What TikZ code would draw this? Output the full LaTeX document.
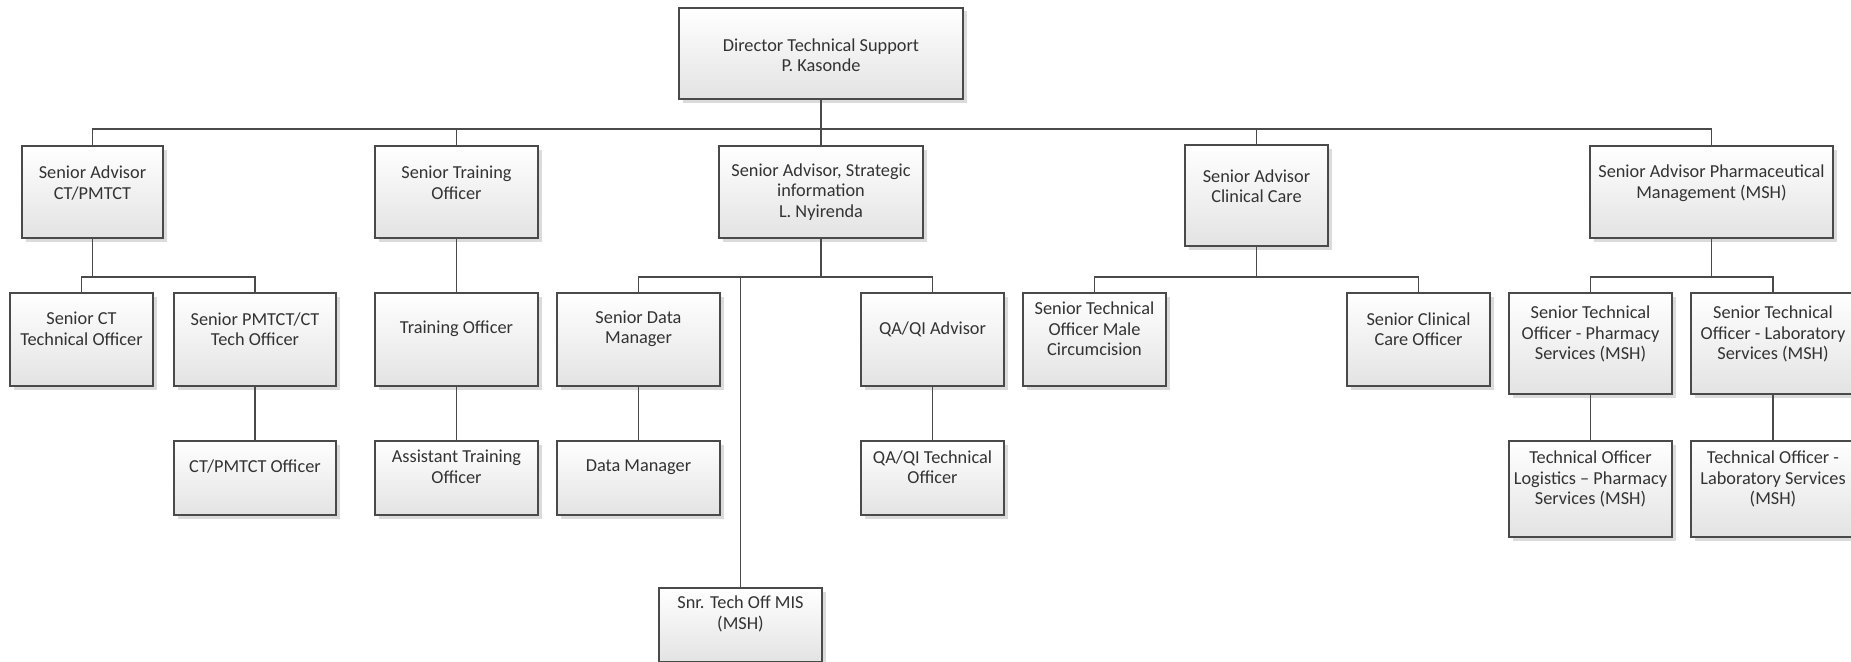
\documentclass[tikz,border=0pt]{standalone}
\usepackage{fontspec}
\setmainfont{Carlito}
\usetikzlibrary{shadows}

\definecolor{edge}{HTML}{4A4A4A}
\definecolor{ink}{HTML}{333333}

\tikzset{
  obox/.style={draw=edge, line width=1.6pt, inner sep=0pt,
    top color=white, bottom color=black!11,
    drop shadow={shadow xshift=3.5pt, shadow yshift=-3.5pt, fill=black!14, opacity=1}},
  otext/.style={text=ink, align=center, inner sep=0pt,
    font=\fontsize{18.3}{20.5}\selectfont},
  conn/.style={draw=edge, line width=1.5pt}
}

% #1 name, #2 left, #3 top, #4 right, #5 bottom, #6 text centre y, #7 text
\newcommand\orgbox[7]{%
  \node[obox, minimum width={#4-#2}, minimum height={#5-#3}] (#1) at ({(#2+#4)/2},{(#3+#5)/2}) {};
  \node[otext] (#1-t) at ({(#2+#4)/2},#6) {#7};
}

\begin{document}
\begin{tikzpicture}[x=1pt, y=-1pt]
\path[use as bounding box] (0,0) rectangle (1851,661);
\fill[white] (0,0) rectangle (1851,661);
\clip (0,0) rectangle (1851,661);

% top
\orgbox{dir}{679}{8}{963}{99}{55}{Director Technical Support\\P. Kasonde}

% senior advisors
\orgbox{sact}{22}{146}{163}{238}{183}{Senior Advisor\\CT/PMTCT}
\orgbox{sto}{375}{146}{538}{238}{183}{Senior Training\\Officer}
\orgbox{sasi}{719}{146}{923}{238}{192}{Senior Advisor, Strategic\\information\\L. Nyirenda}
\orgbox{sacc}{1185}{145}{1328}{246}{186}{Senior Advisor\\Clinical Care}
\orgbox{sapm}{1590}{146}{1833}{238}{183}{Senior Advisor Pharmaceutical\\Management (MSH)}

% second level
\orgbox{sctto}{10}{293}{153}{386}{329}{Senior CT\\Technical Officer}
\orgbox{spmtct}{174}{293}{336}{386}{329}{Senior PMTCT/CT\\Tech Officer}
\orgbox{to}{375}{293}{538}{386}{329}{Training Officer}
\orgbox{sdm}{557}{293}{720}{386}{329}{Senior Data\\Manager}
\orgbox{qaa}{861}{293}{1004}{386}{329}{QA/QI Advisor}
\orgbox{stomc}{1023}{293}{1166}{386}{329}{Senior Technical\\Officer Male\\Circumcision}
\orgbox{scco}{1347}{293}{1490}{386}{329}{Senior Clinical\\Care Officer}
\orgbox{stops}{1509}{293}{1672}{394}{334}{Senior Technical\\Officer - Pharmacy\\Services (MSH)}
\orgbox{stols}{1691}{293}{1855}{394}{334}{Senior Technical\\Officer - Laboratory\\Services (MSH)}

% third level
\orgbox{ctpo}{174}{441}{336}{515}{467}{CT/PMTCT Officer}
\orgbox{ato}{375}{441}{538}{515}{467}{Assistant Training\\Officer}
\orgbox{dm}{557}{441}{720}{515}{467}{Data Manager}
\orgbox{qato}{861}{441}{1004}{515}{467}{QA/QI Technical\\Officer}
\orgbox{tolps}{1509}{441}{1672}{537}{479}{Technical Officer\\Logistics – Pharmacy\\Services (MSH)}
\orgbox{tolab}{1691}{441}{1855}{537}{479}{Technical Officer -\\Laboratory Services\\(MSH)}

% fourth level
\orgbox{mis}{659}{588}{822}{662}{614}{Snr. Tech Off MIS\\(MSH)}

% bus points below each parent
\coordinate (dirbus)  at ([yshift=-29pt]dir.south);
\coordinate (sactbus) at ([yshift=-38pt]sact.south);
\coordinate (sasibus) at ([yshift=-38pt]sasi.south);
\coordinate (saccbus) at ([yshift=-30pt]sacc.south);
\coordinate (sapmbus) at ([yshift=-38pt]sapm.south);

% connectors
\foreach \c in {sact,sto,sasi,sacc,sapm}
  \draw[conn] (dir.south) -- (dirbus) -| (\c.north);
\foreach \c in {sctto,spmtct}
  \draw[conn] (sact.south) -- (sactbus) -| (\c.north);
\draw[conn] (spmtct.south) -- (ctpo.north);
\draw[conn] (sto.south) -- (to.north);
\draw[conn] (to.south) -- (ato.north);
\foreach \c in {sdm,qaa,mis}
  \draw[conn] (sasi.south) -- (sasibus) -| (\c.north);
\draw[conn] (sdm.south) -- (dm.north);
\draw[conn] (qaa.south) -- (qato.north);
\foreach \c in {stomc,scco}
  \draw[conn] (sacc.south) -- (saccbus) -| (\c.north);
\foreach \c in {stops,stols}
  \draw[conn] (sapm.south) -- (sapmbus) -| (\c.north);
\draw[conn] (stops.south) -- (tolps.north);
\draw[conn] (stols.south) -- (tolab.north);
\end{tikzpicture}
\end{document}
